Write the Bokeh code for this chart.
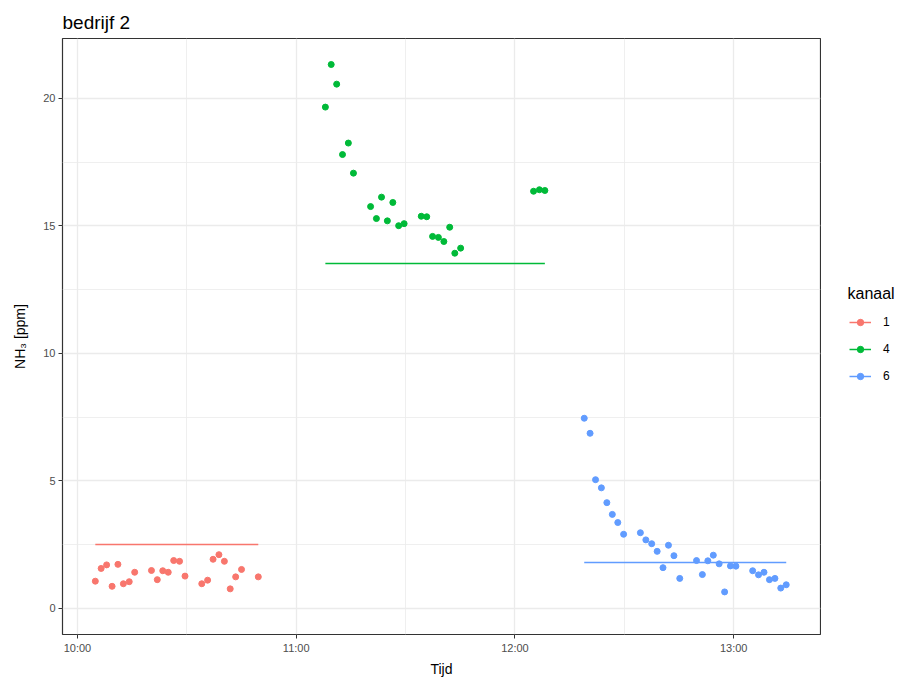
from bokeh.plotting import figure
from bokeh.models import FixedTicker, Legend, LegendItem, Range1d, Label
from bokeh.layouts import row
from bokeh.embed import file_html
from bokeh.resources import INLINE

# minutes after 10:00
ch1_t = [4.9, 6.5, 8.0, 9.5, 11.1, 12.6, 14.2, 15.7, 20.3, 21.9, 23.4, 24.9,
         26.4, 28.0, 29.5, 34.1, 35.7, 37.2, 38.8, 40.3, 41.9, 43.4, 45.0, 49.6]
ch1_v = [1.07, 1.57, 1.71, 0.87, 1.73, 0.97, 1.05, 1.42, 1.49, 1.13, 1.48, 1.42,
         1.88, 1.85, 1.27, 0.97, 1.11, 1.93, 2.11, 1.85, 0.77, 1.24, 1.53, 1.24]

ch4_t = [68.0, 69.6, 71.1, 72.7, 74.3, 75.7, 80.4, 82.0, 83.4, 85.0, 86.5, 88.1,
         89.6, 94.3, 95.8, 97.4, 99.0, 100.5, 102.1, 103.5, 105.1, 125.1, 126.7, 128.2]
ch4_v = [19.66, 21.33, 20.56, 17.80, 18.25, 17.07, 15.76, 15.29, 16.13, 15.20, 15.92, 15.01,
         15.09, 15.38, 15.36, 14.59, 14.55, 14.39, 14.95, 13.93, 14.13, 16.36, 16.42, 16.39]

ch6_t = [139.0, 140.6, 142.1, 143.7, 145.2, 146.7, 148.2, 149.8, 154.4, 155.9, 157.5,
         159.0, 160.6, 162.1, 163.6, 165.2, 169.8, 171.4, 172.9, 174.4, 176.0, 177.5,
         179.1, 180.6, 185.2, 186.8, 188.3, 189.8, 191.3, 192.9, 194.4]
ch6_v = [7.46, 6.87, 5.05, 4.73, 4.15, 3.69, 3.37, 2.91, 2.97, 2.69, 2.54,
         2.24, 1.60, 2.48, 2.07, 1.18, 1.88, 1.33, 1.87, 2.09, 1.75, 0.65,
         1.67, 1.66, 1.48, 1.32, 1.42, 1.13, 1.18, 0.80, 0.93]

channels = ["1", "4", "6"]
levels = [2.51, 13.53, 1.80]
colors = ["#F8766D", "#00BA38", "#619CFF"]
legend_title = "kanaal"

x_ticks = [0, 60, 120, 180]
x_minor = [30, 90, 150]
x_tick_labels = ["10:00", "11:00", "12:00", "13:00"]
y_ticks = [0, 5, 10, 15, 20]
y_minor = [2.5, 7.5, 12.5, 17.5]

FONT = "Liberation Sans"
series_t = [ch1_t, ch4_t, ch6_t]
series_v = [ch1_v, ch4_v, ch6_v]

p = figure(width=821, height=682, output_backend="svg", toolbar_location=None,
           x_range=Range1d(-4.1, 203.8), y_range=Range1d(-1.02, 22.35),
           min_border_left=62, min_border_right=1, min_border_top=38,
           min_border_bottom=48, title="bedrijf 2")

p.title.text_font = FONT
p.title.text_font_size = "19px"
p.title.text_font_style = "normal"
p.title.text_color = "#000000"
p.title.standoff = 12

p.background_fill_color = "white"
p.border_fill_color = "white"
p.outline_line_color = "#333333"
p.outline_line_width = 1.2

p.xaxis.ticker = FixedTicker(ticks=x_ticks, minor_ticks=x_minor)
p.yaxis.ticker = FixedTicker(ticks=y_ticks, minor_ticks=y_minor)
p.xaxis.major_label_overrides = {t: l for t, l in zip(x_ticks, x_tick_labels)}

for ax in (p.xaxis[0], p.yaxis[0]):
    ax.axis_line_color = None
    ax.major_tick_line_color = "#333333"
    ax.major_tick_out = 4
    ax.major_tick_in = 0
    ax.minor_tick_out = 0
    ax.minor_tick_in = 0
    ax.major_label_text_font = FONT
    ax.major_label_text_font_size = "11px"
    ax.major_label_text_color = "#4D4D4D"
    ax.major_label_standoff = 3
    ax.axis_label_text_font = FONT
    ax.axis_label_text_font_size = "14px"
    ax.axis_label_text_font_style = "normal"
    ax.axis_label_text_color = "#000000"
    ax.axis_label_standoff = 4

p.yaxis.axis_label_standoff = 12
p.xaxis.axis_label = "Tijd"
p.yaxis.axis_label = "NH\u2083 [ppm]"

for g in (p.xgrid[0], p.ygrid[0]):
    g.grid_line_color = "#EBEBEB"
    g.grid_line_width = 1.3
    g.minor_grid_line_color = "#EBEBEB"
    g.minor_grid_line_width = 0.8

for t, v, lev, col in zip(series_t, series_v, levels, colors):
    p.line([min(t), max(t)], [lev, lev], line_color=col, line_width=1.5)
    p.scatter(t, v, size=6, fill_color=col, line_color=col)

# legend panel: a separate canvas right of the plot panel; its view range
# lies outside the data, so its renderers serve only as legend keys
lg = figure(width=80, height=682, output_backend="svg", toolbar_location=None,
            x_range=Range1d(-1000, -999), y_range=Range1d(-1000, -999), min_border=0)
lg.xaxis.visible = False
lg.yaxis.visible = False
lg.xgrid.visible = False
lg.ygrid.visible = False
lg.outline_line_color = None
lg.background_fill_color = "white"
lg.border_fill_color = "white"

items = []
for name, t, v, lev, col in zip(channels, series_t, series_v, levels, colors):
    lr = lg.line([min(t), max(t)], [lev, lev], line_color=col, line_width=1.5)
    sr = lg.scatter(t, v, size=6, fill_color=col, line_color=col)
    items.append(LegendItem(label=name, renderers=[lr, sr]))

legend = Legend(items=items, location=(28, 250),
                label_text_font=FONT, label_text_font_size="12px",
                label_text_color="#000000",
                glyph_width=22, glyph_height=16, label_height=16,
                spacing=11, label_standoff=12,
                border_line_color=None, background_fill_alpha=0,
                margin=0, padding=0)
lg.add_layout(legend)
lg.add_layout(Label(x=26, y=341, x_units="screen", y_units="screen",
                    text=legend_title, text_font=FONT, text_font_size="16px",
                    text_color="#000000", text_baseline="middle", text_align="left"))

layout = row(p, lg, spacing=0)
open("out.html", "w").write(file_html(layout, INLINE))
